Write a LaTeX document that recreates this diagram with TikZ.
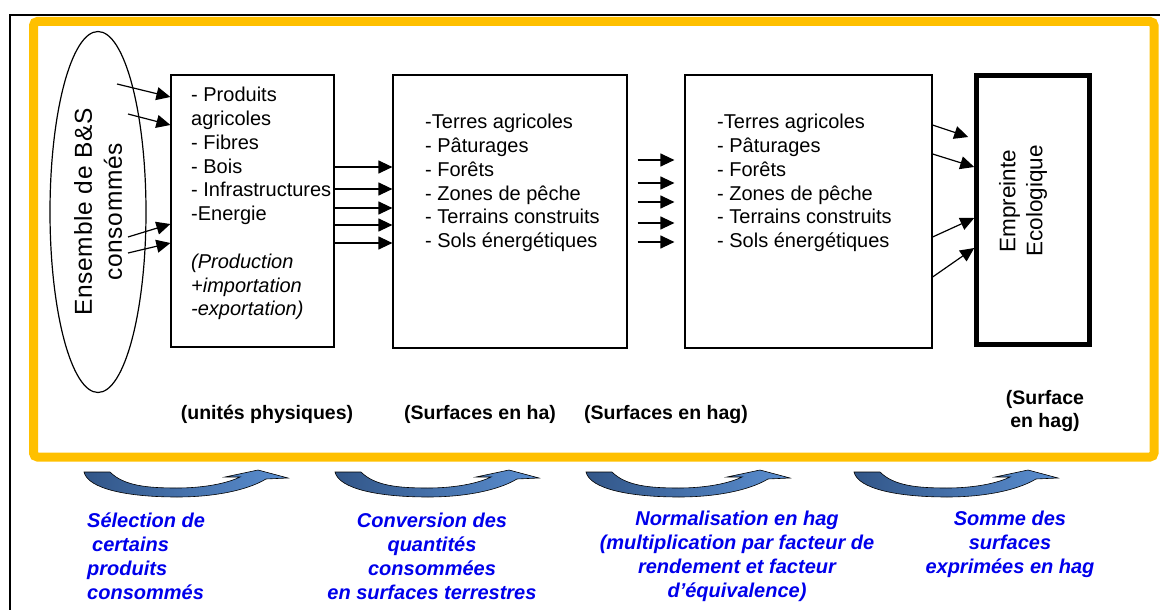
\documentclass[tikz,border=0pt]{standalone}
\usepackage{fontspec}
\setmainfont{Liberation Sans}
\usepackage{tikz}
\usetikzlibrary{arrows.meta,shapes.geometric}

\definecolor{frame_yellow}{RGB}{255,192,0}
\definecolor{curve_dark}{RGB}{50,86,136}
\definecolor{curve_light}{RGB}{90,142,208}
\definecolor{note_blue}{RGB}{0,0,235}

\begin{document}
\begin{tikzpicture}[x=1pt,y=-1pt,
  box_node/.style={draw,line width=1.2pt,inner sep=0pt},
  list_text/.style={anchor=north west,align=left,inner sep=0pt,font=\fontsize{20}{23.8}\selectfont},
  unit_text/.style={align=center,inner sep=0pt,font=\bfseries\fontsize{19.5}{23}\selectfont},
  step_text/.style={text=note_blue,inner sep=0pt,font=\bfseries\itshape\fontsize{20}{24}\selectfont},
  thin_arrow/.style={line width=1.2pt,-{Triangle[length=14pt,width=13pt]}},
  curve_arrow/.style={draw=black,line width=0.6pt,left color=curve_dark,right color=curve_light}]

    \useasboundingbox (0,0) rectangle (1160,610);

    % frames
    \draw[line width=1.5pt] (10,614) |- (1164,15);
    \draw[frame_yellow,line width=9pt,rounded corners=4pt] (33.5,21.5) rectangle (1154,457);

    % main blocks
    \node[ellipse,draw,line width=1.2pt,rotate=90,minimum width=361pt,minimum height=96pt,inner sep=0pt,
      align=center,font=\fontsize{24.5}{30}\selectfont\addfontfeature{LetterSpace=3}] (ens) at (98,212) {Ensemble de B\&S\\consommés};
    \node[box_node,minimum width=163pt,minimum height=272pt] (phys) at (252.5,211) {};
    \node[box_node,minimum width=234pt,minimum height=273pt] (ha) at (510,211.5) {};
    \node[box_node,minimum width=247pt,minimum height=273pt] (hag) at (808.5,211.5) {};
    \node[draw,line width=5pt,minimum width=112.5pt,minimum height=269pt] (ep) at (1033,210) {};

    \node[list_text] (phys_txt) at (191,87) {- Produits\\agricoles\\- Fibres\\- Bois\\- Infrastructures\\-Energie\\[23.8pt]
      \textit{(Production}\\\textit{+importation}\\\textit{-exportation)}};
    \node[list_text] (ha_txt) at (425,114) {-Terres agricoles\\- Pâturages\\- Forêts\\- Zones de pêche\\- Terrains construits\\- Sols énergétiques};
    \node[list_text] (hag_txt) at (717,114) {-Terres agricoles\\- Pâturages\\- Forêts\\- Zones de pêche\\- Terrains construits\\- Sols énergétiques};
    \node[rotate=90,align=center,inner sep=0pt,font=\fontsize{22.5}{27}\selectfont] (ep_txt) at (1023,201) {Empreinte\\Ecologique};

    % arrows
    \coordinate (s1) at (117,84);
    \coordinate (s2) at (128,114);
    \coordinate (s3) at (128,237);
    \coordinate (s4) at (128,253);
    \draw[thin_arrow] (s1) -- (phys.west |- 0,97);
    \draw[thin_arrow] (s2) -- (phys.west |- 0,125);
    \draw[thin_arrow] (s3) -- (phys.west |- 0,224);
    \draw[thin_arrow] (s4) -- (phys.west |- 0,243);

    \foreach \y in {167,189,208,225,243}
      \draw[thin_arrow] (phys.east |- 0,\y) -- (ha.west |- 0,\y);
    \foreach \y in {160,183,202,223,242}
      \draw[thin_arrow] ([xshift=10pt]ha.east |- 0,\y) -- ([xshift=-10pt]hag.west |- 0,\y);

    \draw[thin_arrow] (hag.east |- 0,125) -- ([xshift=-6pt]ep.west |- 0,137);
    \draw[thin_arrow] (hag.east |- 0,154) -- (ep.west |- 0,167);
    \draw[thin_arrow] (hag.east |- 0,237) -- (ep.west |- 0,218);
    \draw[thin_arrow] (hag.east |- 0,277) -- (ep.west |- 0,248);

    % units
    \node[unit_text] (u1) at (267,414) {(unités physiques)};
    \node[unit_text] (u2) at (480,414) {(Surfaces en ha)};
    \node[unit_text] (u3) at (666,414) {(Surfaces en hag)};
    \node[unit_text] (u4) at (1045,411) {(Surface\\en hag)};

    % steps
    \foreach \dx in {0,251,502,770}
      \draw[curve_arrow,shift={(\dx,0)}] (84,472) -- (110,472)
        .. controls (124,486) and (148,488) .. (177,488)
        .. controls (205,488) and (228,483) .. (240,477) -- (225,477) -- (258,470) -- (288,478) -- (266,479)
        .. controls (246,491) and (212,497) .. (177,497)
        .. controls (128,497) and (88,489) .. cycle;

    \node[step_text,anchor=west,align=left] (st1) at (87,556) {Sélection de\\\hspace*{5pt}certains\\produits\\consommés};
    \node[step_text,align=center] (st2) at (432,556) {Conversion des\\quantités\\consommées\\en surfaces terrestres};
    \node[step_text,align=center] (st3) at (737,556) {Normalisation en hag\\(multiplication par facteur de\\rendement et facteur\\d’équivalence)};
    \node[step_text,align=center] (st4) at (1010,544) {Somme des\\surfaces\\exprimées en hag};

\end{tikzpicture}
\end{document}
